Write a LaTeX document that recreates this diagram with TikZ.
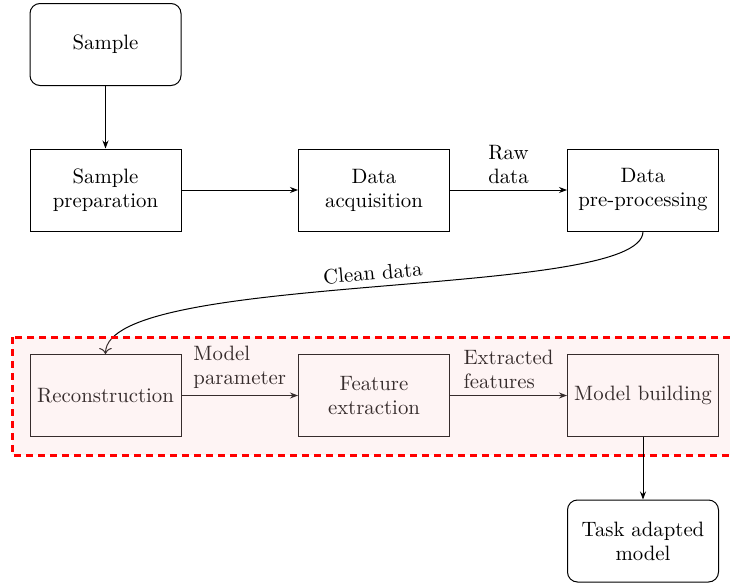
\documentclass[tikz,border=0pt]{standalone}
\usetikzlibrary{arrows.meta}
\definecolor{overlaycol}{RGB}{250,204,204}
\begin{document}
\begin{tikzpicture}[x=0.5pt,y=-0.5pt,
  every node/.style={font=\fontsize{10.4}{12}\selectfont},
  box/.style={draw, line width=0.5pt, minimum width=75.5pt, minimum height=41pt, align=center, inner sep=2pt},
  rbox/.style={box, rounded corners=5pt},
  arr/.style={-{Stealth[length=4pt,width=3pt]}, line width=0.5pt},
  lab/.style={midway, above, inner sep=3pt}]
\useasboundingbox (0,0) rectangle (730,584);
\node[rbox] (s)   at (105.5,44.5) {Sample};
\node[box]  (sp)  at (105.5,190) {Sample\\preparation};
\node[box]  (da)  at (374,190) {Data\\acquisition};
\node[box]  (dp)  at (643,190) {Data\\pre-processing};
\node[box]  (rec) at (105.5,395.5) {Reconstruction};
\node[box]  (fe)  at (374,395.5) {Feature\\extraction};
\node[box]  (mb)  at (643,395.5) {Model building};
\node[rbox] (tam) at (643,541) {Task adapted\\model};
\draw[arr] (s) -- (sp);
\draw[arr] (sp) -- (da);
\draw[arr] (da) -- node[lab, align=center] {Raw\\data} (dp);
\draw[line width=0.5pt, -{To[length=3pt]}] (dp.south) .. controls (643,300) and (105,270) .. node[midway, above, sloped, inner sep=3pt] {Clean data} (rec.north);
\draw[arr] (rec) -- node[lab, align=left] {Model\\parameter} (fe);
\draw[arr] (fe) -- node[lab, align=left] {Extracted\\features} (mb);
\begin{scope}
\clip (0,0) rectangle (730,584);
\fill[overlaycol, fill opacity=0.22] (12,337) rectangle (745,455);
\draw[red, line width=1.5pt, dash pattern=on 3.5pt off 2.5pt] (12,337) rectangle (745,455);
\end{scope}
\draw[arr] (mb) -- (tam);
\end{tikzpicture}
\end{document}
